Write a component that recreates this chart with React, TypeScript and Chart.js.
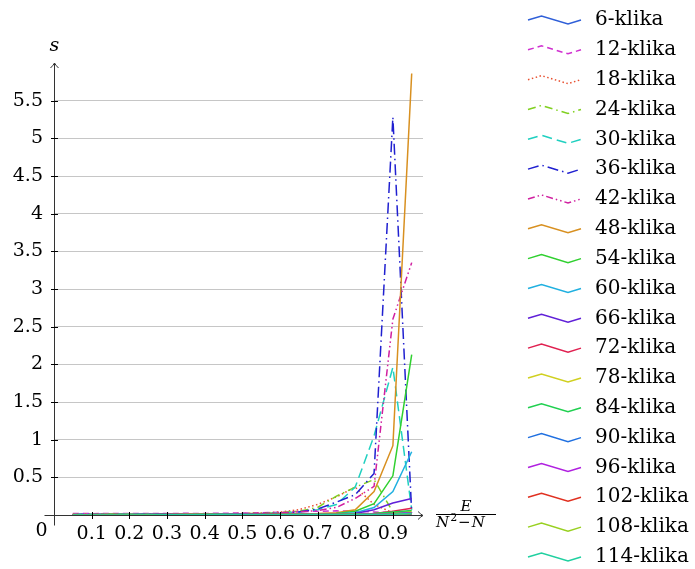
import { useEffect, useRef } from "react";
import { Chart, registerables } from "chart.js";

Chart.register(...registerables);

// Edge density E / (N^2 - N) at which each run was measured
const density = [0.05, 0.1, 0.15, 0.2, 0.25, 0.3, 0.35, 0.4, 0.45, 0.5, 0.55, 0.6, 0.65, 0.7, 0.75, 0.8, 0.85, 0.9, 0.95];

const seriesNames = [
  "6-klika", "12-klika", "18-klika", "24-klika", "30-klika", "36-klika", "42-klika",
  "48-klika", "54-klika", "60-klika", "66-klika", "72-klika", "78-klika", "84-klika",
  "90-klika", "96-klika", "102-klika", "108-klika", "114-klika",
];

// Measured time s for every clique size
const k6 = [0.012, 0.011, 0.012, 0.01, 0.011, 0.012, 0.011, 0.01, 0.012, 0.011, 0.012, 0.013, 0.012, 0.014, 0.013, 0.012, 0.011, 0.012, 0.01];
const k12 = [0.02, 0.018, 0.02, 0.019, 0.021, 0.02, 0.022, 0.02, 0.024, 0.026, 0.03, 0.036, 0.045, 0.05, 0.055, 0.05, 0.04, 0.03, 0.02];
const k18 = [0.01, 0.012, 0.011, 0.012, 0.013, 0.012, 0.014, 0.015, 0.016, 0.02, 0.025, 0.04, 0.07, 0.14, 0.24, 0.37, 0.14, 0.03, 0.01];
const k24 = [0.005, 0.008, 0.01, 0.01, 0.012, 0.012, 0.013, 0.014, 0.015, 0.018, 0.022, 0.03, 0.05, 0.1, 0.25, 0.37, 0.47, 0.04, 0.02];
const k30 = [0.004, 0.006, 0.008, 0.01, 0.01, 0.011, 0.012, 0.012, 0.013, 0.015, 0.018, 0.025, 0.04, 0.07, 0.14, 0.37, 1.05, 1.96, 0.07];
const k36 = [0.004, 0.006, 0.007, 0.008, 0.009, 0.01, 0.011, 0.012, 0.013, 0.015, 0.018, 0.022, 0.04, 0.08, 0.17, 0.27, 0.55, 5.28, 0.03];
const k42 = [0.003, 0.005, 0.006, 0.008, 0.009, 0.01, 0.011, 0.012, 0.014, 0.016, 0.02, 0.03, 0.04, 0.06, 0.1, 0.22, 0.38, 2.6, 3.35];
const k48 = [0.003, 0.004, 0.005, 0.006, 0.007, 0.008, 0.009, 0.01, 0.011, 0.012, 0.013, 0.014, 0.016, 0.02, 0.03, 0.07, 0.31, 0.92, 5.86];
const k54 = [0.002, 0.004, 0.005, 0.006, 0.006, 0.007, 0.008, 0.009, 0.01, 0.011, 0.012, 0.013, 0.014, 0.016, 0.02, 0.05, 0.15, 0.52, 2.13];
const k60 = [0.002, 0.003, 0.004, 0.005, 0.006, 0.006, 0.007, 0.008, 0.009, 0.01, 0.011, 0.012, 0.013, 0.014, 0.018, 0.03, 0.1, 0.31, 0.84];
const k66 = [0.002, 0.003, 0.004, 0.004, 0.005, 0.005, 0.006, 0.007, 0.008, 0.009, 0.01, 0.011, 0.012, 0.013, 0.015, 0.02, 0.07, 0.16, 0.22];
const k72 = [0.002, 0.002, 0.003, 0.004, 0.004, 0.005, 0.005, 0.006, 0.007, 0.008, 0.008, 0.009, 0.01, 0.011, 0.012, 0.014, 0.02, 0.05, 0.09];
const k78 = [0.001, 0.002, 0.003, 0.003, 0.004, 0.004, 0.005, 0.005, 0.006, 0.007, 0.007, 0.008, 0.009, 0.01, 0.011, 0.012, 0.015, 0.03, 0.05];
const k84 = [0.001, 0.002, 0.002, 0.003, 0.003, 0.004, 0.004, 0.005, 0.005, 0.006, 0.007, 0.007, 0.008, 0.009, 0.01, 0.011, 0.02, 0.04, 0.06];
const k90 = [0.001, 0.001, 0.002, 0.002, 0.003, 0.003, 0.004, 0.004, 0.005, 0.005, 0.006, 0.006, 0.007, 0.008, 0.008, 0.009, 0.01, 0.015, 0.03];
const k96 = [0.001, 0.001, 0.002, 0.002, 0.002, 0.003, 0.003, 0.004, 0.004, 0.005, 0.005, 0.006, 0.006, 0.007, 0.007, 0.008, 0.009, 0.012, 0.03];
const k102 = [0.001, 0.001, 0.001, 0.002, 0.002, 0.002, 0.003, 0.003, 0.004, 0.004, 0.005, 0.005, 0.006, 0.006, 0.007, 0.007, 0.008, 0.01, 0.02];
const k108 = [0.001, 0.001, 0.001, 0.001, 0.002, 0.002, 0.002, 0.003, 0.003, 0.004, 0.004, 0.005, 0.005, 0.006, 0.006, 0.007, 0.008, 0.01, 0.02];
const k114 = [0.001, 0.001, 0.001, 0.001, 0.001, 0.002, 0.002, 0.002, 0.003, 0.003, 0.004, 0.004, 0.005, 0.005, 0.006, 0.006, 0.007, 0.009, 0.02];

const seriesValues = [k6, k12, k18, k24, k30, k36, k42, k48, k54, k60, k66, k72, k78, k84, k90, k96, k102, k108, k114];

const seriesColors = [
  "#2f5fd8", "#d030d0", "#e85030", "#80d020", "#20d0c0", "#2020d0", "#d020a0",
  "#d89020", "#30d030", "#20b0e0", "#6020d8", "#e02050", "#d0d020", "#20d050",
  "#2070e0", "#b020e0", "#e03020", "#98d020", "#20d0a0",
];

const seriesDashes: number[][] = [
  [], [6, 4], [1.5, 2.5], [8, 4, 1.5, 4], [10, 5], [11, 4, 1.5, 4], [7, 3, 1.5, 3, 1.5, 3],
  [], [], [], [], [], [], [], [], [], [], [], [],
];

const xTicks = [0.1, 0.2, 0.3, 0.4, 0.5, 0.6, 0.7, 0.8, 0.9];
const yTicks = [0.5, 1, 1.5, 2, 2.5, 3, 3.5, 4, 4.5, 5, 5.5];

const SERIF = "'DejaVu Serif', 'Liberation Serif', serif";
const TICK_SIZE = 19;
const LEGEND_SIZE = 20;
const LINE_WIDTH = 1.5;

// Axis lines with arrow tips, tick marks, origin label and axis titles
const axisDecorations = {
  id: "axisDecorations",
  afterDatasetsDraw(chart: any) {
    const { ctx, chartArea, scales } = chart;
    const xs = scales.x;
    const ys = scales.y;
    const ox = Math.round(xs.getPixelForValue(0)) + 0.5;
    const oy = Math.round(ys.getPixelForValue(0)) + 0.5;
    const right = chartArea.right;
    const top = chartArea.top;

    ctx.save();
    ctx.strokeStyle = "#333";
    ctx.lineWidth = 1;
    ctx.setLineDash([]);

    ctx.beginPath();
    ctx.moveTo(ox - 10, oy);
    ctx.lineTo(right, oy);
    ctx.moveTo(ox, oy + 10);
    ctx.lineTo(ox, top);
    ctx.stroke();

    // arrow tips
    ctx.beginPath();
    ctx.moveTo(right - 5, oy - 4);
    ctx.quadraticCurveTo(right - 2, oy - 1, right, oy);
    ctx.quadraticCurveTo(right - 2, oy + 1, right - 5, oy + 4);
    ctx.moveTo(ox - 4, top + 5);
    ctx.quadraticCurveTo(ox - 1, top + 2, ox, top);
    ctx.quadraticCurveTo(ox + 1, top + 2, ox + 4, top + 5);
    ctx.stroke();

    // tick marks
    ctx.strokeStyle = "#000";
    ctx.beginPath();
    for (const v of xTicks) {
      const px = Math.round(xs.getPixelForValue(v)) + 0.5;
      ctx.moveTo(px, oy - 3.5);
      ctx.lineTo(px, oy + 3.5);
    }
    for (const v of yTicks) {
      const py = Math.round(ys.getPixelForValue(v)) + 0.5;
      ctx.moveTo(ox - 3.5, py);
      ctx.lineTo(ox + 3.5, py);
    }
    ctx.stroke();

    ctx.fillStyle = "#000";
    ctx.textAlign = "center";
    ctx.textBaseline = "middle";
    ctx.font = `${TICK_SIZE}px ${SERIF}`;
    ctx.fillText("0", ox - 13, oy + 16);

    // y title
    ctx.font = `italic ${TICK_SIZE}px ${SERIF}`;
    ctx.fillText("s", ox, top - 17);

    // x title: E / (N^2 - N)
    const fx = right + 13;
    const fw = 60;
    ctx.font = `italic 15px ${SERIF}`;
    ctx.fillText("E", fx + fw / 2, oy - 8);
    ctx.beginPath();
    ctx.moveTo(fx, oy - 1);
    ctx.lineTo(fx + fw, oy - 1);
    ctx.stroke();
    ctx.textAlign = "left";
    let cx = fx;
    ctx.fillText("N", cx, oy + 8);
    cx += ctx.measureText("N").width + 1;
    ctx.font = `11px ${SERIF}`;
    ctx.fillText("2", cx, oy + 3);
    cx += ctx.measureText("2").width + 1;
    ctx.font = `15px ${SERIF}`;
    ctx.fillText("\u2212", cx, oy + 8);
    cx += ctx.measureText("\u2212").width + 1;
    ctx.font = `italic 15px ${SERIF}`;
    ctx.fillText("N", cx, oy + 8);
    ctx.restore();
  },
};

// Legend column on the right: zig-zag sample line plus series name
const zigzagLegend = {
  id: "zigzagLegend",
  afterDraw(chart: any) {
    const { ctx } = chart;
    const datasets = chart.data.datasets;
    const x0 = 528;
    const top = 20;
    const step = 29.83;
    ctx.save();
    datasets.forEach((ds: any, i: number) => {
      const y = top + i * step;
      ctx.strokeStyle = ds.borderColor;
      ctx.lineWidth = LINE_WIDTH;
      ctx.setLineDash(ds.borderDash || []);
      ctx.beginPath();
      ctx.moveTo(x0, y);
      ctx.lineTo(x0 + 13.5, y - 4);
      ctx.lineTo(x0 + 40, y + 4);
      ctx.lineTo(x0 + 53, y);
      ctx.stroke();
      ctx.setLineDash([]);
      ctx.fillStyle = "#000";
      ctx.font = `${LEGEND_SIZE}px ${SERIF}`;
      ctx.textAlign = "left";
      ctx.textBaseline = "middle";
      ctx.fillText(ds.label, 595, y);
    });
    ctx.restore();
  },
};

export default function App() {
  const canvasRef = useRef<HTMLCanvasElement | null>(null);

  useEffect(() => {
    document.body.style.margin = "0";
    const canvas = canvasRef.current;
    if (!canvas) return;
    const n = seriesValues.length;
    const chart = new Chart(canvas, {
      type: "line",
      data: {
        datasets: seriesValues.map((vals, i) => ({
          label: seriesNames[i],
          data: vals.map((v, j) => ({ x: density[j], y: v })),
          borderColor: seriesColors[i],
          backgroundColor: seriesColors[i],
          borderDash: seriesDashes[i],
          borderWidth: LINE_WIDTH,
          pointRadius: 0,
          tension: 0,
          fill: false,
          order: n - i,
        })),
      },
      options: {
        animation: false,
        responsive: false,
        events: [],
        layout: { padding: { left: 0, right: 272, top: 63, bottom: 0 } },
        plugins: { legend: { display: false }, tooltip: { enabled: false } },
        scales: {
          x: {
            type: "linear",
            min: 0,
            max: 0.98,
            afterFit(scale: any) {
              scale.height = 54;
            },
            afterBuildTicks(scale: any) {
              scale.ticks = xTicks.map((v) => ({ value: v }));
            },
            ticks: {
              font: { family: SERIF, size: TICK_SIZE },
              color: "#000",
              padding: 8,
              maxRotation: 0,
              autoSkip: false,
              callback: (v: any) => String(v),
            },
            grid: { display: false, drawTicks: false },
            border: { display: false },
          },
          y: {
            type: "linear",
            min: 0,
            max: 6,
            afterFit(scale: any) {
              scale.width = 54;
            },
            afterBuildTicks(scale: any) {
              scale.ticks = yTicks.map((v) => ({ value: v }));
            },
            ticks: {
              font: { family: SERIF, size: TICK_SIZE },
              color: "#000",
              padding: 11,
              autoSkip: false,
              callback: (v: any) => String(v),
            },
            grid: { color: "#c6c6c6", lineWidth: 1, drawTicks: false },
            border: { display: false },
          },
        },
      },
      plugins: [axisDecorations, zigzagLegend],
    });
    return () => chart.destroy();
  }, []);

  return (
    <div style={{ position: "absolute", left: 0, top: 0, width: 695, height: 569 }}>
      <canvas ref={canvasRef} width={695} height={569} />
    </div>
  );
}
